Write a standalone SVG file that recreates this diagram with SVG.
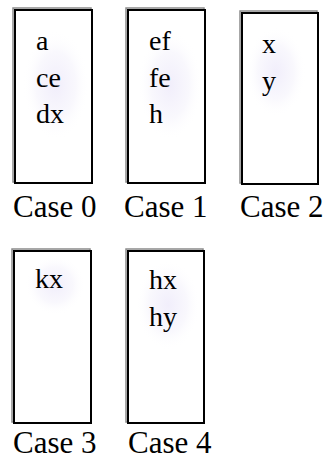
<svg xmlns="http://www.w3.org/2000/svg" width="331" height="460" viewBox="0 0 331 460">
<defs>
<radialGradient id="glow">
<stop offset="0" stop-color="#f1eefb"/>
<stop offset="0.6" stop-color="#f9f8fd"/>
<stop offset="1" stop-color="#ffffff" stop-opacity="0"/>
</radialGradient>
<style>
.sh{fill:none;stroke:#8a8a8a;stroke-width:1.5}
.bx{fill:#fff;stroke:#000;stroke-width:2}
.gl{fill:url(#glow)}
text{font-family:"Liberation Serif",Tinos,"Times New Roman",Times,"Nimbus Roman","Nimbus Roman No9 L","DejaVu Serif",serif;fill:#000}
.t{font-size:28px}
.c{font-size:31px}
</style>
</defs>
<rect width="331" height="460" fill="#fff"/>
<g id="case0">
<rect class="sh" x="13" y="8" width="78" height="174"/>
<rect class="bx" x="15" y="10" width="77" height="173"/>
<ellipse class="gl" cx="56" cy="85" rx="33" ry="55"/>
<text class="t" x="36" y="50">a</text>
<text class="t" x="36" y="87">ce</text>
<text class="t" x="36" y="123">dx</text>
<text class="c" x="13" y="217">Case 0</text>
</g>
<g id="case1">
<rect class="sh" x="126" y="8" width="78" height="174"/>
<rect class="bx" x="128" y="10" width="77" height="173"/>
<ellipse class="gl" cx="170" cy="85" rx="32" ry="55"/>
<text class="t" x="149" y="50">ef</text>
<text class="t" x="149" y="87">fe</text>
<text class="t" x="149" y="123">h</text>
<text class="c" x="124" y="217">Case 1</text>
</g>
<g id="case2">
<rect class="sh" x="240" y="11" width="77" height="172"/>
<rect class="bx" x="242" y="13" width="76" height="171"/>
<ellipse class="gl" cx="276" cy="72" rx="30" ry="45"/>
<text class="t" x="262" y="53">x</text>
<text class="t" x="262" y="90">y</text>
<text class="c" x="240" y="217">Case 2</text>
</g>
<g id="case3">
<rect class="sh" x="12" y="249" width="78" height="173"/>
<rect class="bx" x="14" y="251" width="77" height="172"/>
<ellipse class="gl" cx="55" cy="285" rx="30" ry="30"/>
<text class="t" x="35" y="288">kx</text>
<text class="c" x="13" y="453">Case 3</text>
</g>
<g id="case4">
<rect class="sh" x="126" y="249" width="77" height="173"/>
<rect class="bx" x="128" y="251" width="76" height="172"/>
<ellipse class="gl" cx="168" cy="305" rx="32" ry="45"/>
<text class="t" x="149" y="289">hx</text>
<text class="t" x="149" y="326">hy</text>
<text class="c" x="128" y="453">Case 4</text>
</g>
<g id="connectors"/>
</svg>
